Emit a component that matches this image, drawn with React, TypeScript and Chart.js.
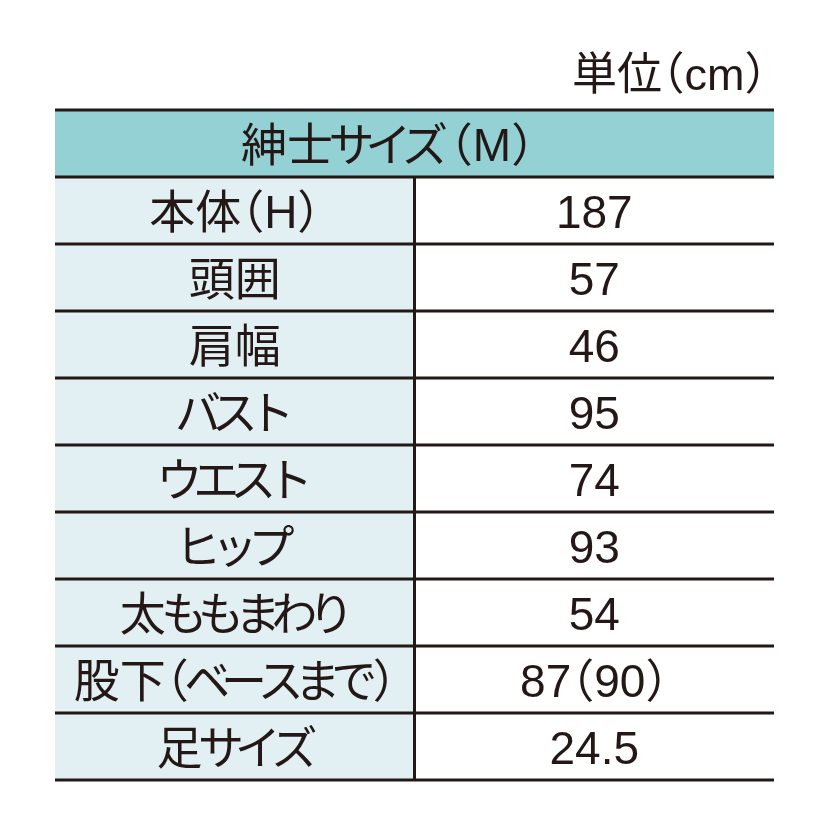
import React, { useEffect, useRef } from "react";
import { Chart, registerables } from "chart.js";

Chart.register(...registerables);

const unitLabel = "単位（cm）";
const headerTitle = "紳士サイズ（M）";
const rowLabels = [
  "本体（H）",
  "頭囲",
  "肩幅",
  "バスト",
  "ウエスト",
  "ヒップ",
  "太ももまわり",
  "股下（ベースまで）",
  "足サイズ",
];
const rowValues = ["187", "57", "46", "95", "74", "93", "54", "87（90）", "24.5"];

const categories = [headerTitle, ...rowLabels];

const HEADER_BG = "#93d1d4";
const LABEL_BG = "#e3f0f3";
const VALUE_BG = "#ffffff";
const INK = "#231815";
const FONT = '"Liberation Sans", "Noto Sans CJK JP", sans-serif';

// proportional (palt-like) layout of mixed Japanese / Latin text
function layoutText(ctx: CanvasRenderingContext2D, text: string, em: number, parenAdv: number) {
  const parts: { ch: string; dx: number; adv: number }[] = [];
  for (const ch of Array.from(text)) {
    const c = ch.codePointAt(0) || 0;
    if (ch === "（") parts.push({ ch, dx: -(1 - parenAdv) * em, adv: parenAdv * em });
    else if (ch === "）") parts.push({ ch, dx: 0, adv: parenAdv * em });
    else if (c >= 0x3040 && c <= 0x30ff) parts.push({ ch, dx: -0.1 * em, adv: 0.8 * em });
    else if (c >= 0x2e80) parts.push({ ch, dx: 0, adv: em });
    else parts.push({ ch, dx: 0, adv: ctx.measureText(ch).width });
  }
  const width = parts.reduce((s, p) => s + p.adv, 0);
  return { parts, width };
}

function drawText(
  ctx: CanvasRenderingContext2D,
  text: string,
  x: number,
  y: number,
  em: number,
  align: "left" | "center",
  parenAdv = 0.5
) {
  ctx.font = `${em}px ${FONT}`;
  ctx.textAlign = "left";
  const { parts, width } = layoutText(ctx, text, em, parenAdv);
  let cx = align === "center" ? x - width / 2 : x;
  for (const p of parts) {
    ctx.fillText(p.ch, cx + p.dx, y);
    cx += p.adv;
  }
}

const tablePlugin = {
  id: "tablePlugin",
  afterDatasetsDraw(chart: any) {
    const { ctx, chartArea, scales } = chart;
    const x = scales.x;
    const y = scales.y;
    const band = y.getPixelForValue(1) - y.getPixelForValue(0);
    ctx.save();
    ctx.strokeStyle = INK;
    ctx.lineWidth = 3;
    for (let i = 0; i <= categories.length; i++) {
      const py = i === 0 ? chartArea.top : y.getPixelForValue(i - 1) + band / 2;
      ctx.beginPath();
      ctx.moveTo(chartArea.left, py);
      ctx.lineTo(chartArea.right, py);
      ctx.stroke();
    }
    const vx = x.getPixelForValue(1);
    ctx.beginPath();
    ctx.moveTo(vx, y.getPixelForValue(0) + band / 2);
    ctx.lineTo(vx, chartArea.bottom);
    ctx.stroke();

    ctx.fillStyle = INK;
    drawText(ctx, headerTitle, chartArea.left + 186, y.getPixelForValue(0) + 17, 46, "left", 0.64);
    rowLabels.forEach((lab, i) => {
      const cy = y.getPixelForValue(i + 1) + 17;
      drawText(ctx, lab, x.getPixelForValue(0.5), cy, 46, "center");
      drawText(ctx, rowValues[i], x.getPixelForValue(1.5), cy, 46, "center");
    });
    drawText(ctx, unitLabel, chartArea.right - 202, chartArea.top - 20, 45, "left");
    ctx.restore();
  },
};

export default function App() {
  const ref = useRef<HTMLCanvasElement | null>(null);
  useEffect(() => {
    if (!ref.current) return;
    const chart = new Chart(ref.current, {
      type: "bar",
      data: {
        labels: categories,
        datasets: [
          {
            label: "header",
            data: categories.map((_, i) => (i === 0 ? [0, 2] : null)) as any,
            backgroundColor: HEADER_BG,
          },
          {
            label: "labels",
            data: categories.map((_, i) => (i === 0 ? null : [0, 1])) as any,
            backgroundColor: LABEL_BG,
          },
          {
            label: "values",
            data: categories.map((_, i) => (i === 0 ? null : [1, 2])) as any,
            backgroundColor: VALUE_BG,
          },
        ],
      },
      options: {
        indexAxis: "y",
        responsive: false,
        animation: false,
        layout: { padding: { left: 55, right: 56, top: 110, bottom: 50 } },
        datasets: { bar: { barPercentage: 1, categoryPercentage: 1, grouped: false, borderWidth: 0 } },
        scales: {
          x: { type: "linear", min: 0, max: 2, display: false },
          y: { type: "category", offset: true, display: false },
        },
        plugins: { legend: { display: false }, tooltip: { enabled: false }, title: { display: false } },
      } as any,
      plugins: [tablePlugin],
    });
    return () => chart.destroy();
  }, []);
  return (
    <div style={{ position: "absolute", left: 0, top: 0, width: 830, height: 830, background: "#fff" }}>
      <canvas ref={ref} width={830} height={830} />
    </div>
  );
}
